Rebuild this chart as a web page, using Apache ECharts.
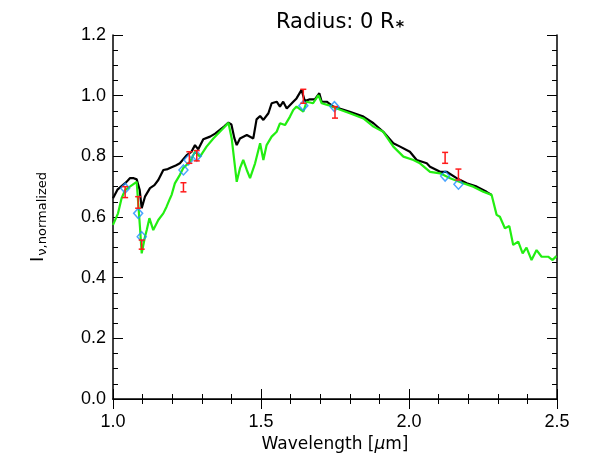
<!doctype html>
<html>
<head>
<meta charset="UTF-8">
<title>Radius: 0 R*</title>
<script src="https://cdn.jsdelivr.net/npm/echarts@6/dist/echarts.min.js"></script>
<style>
  html, body { margin: 0; padding: 0; background: #fff; }
  #main { width: 591px; height: 472px; }
</style>
</head>
<body>
<div id="main"></div>
<script>
// model spectrum (black)
var blackWl = [1.000,1.015,1.029,1.045,1.057,1.070,1.080,1.090,1.097,1.108,1.125,1.140,1.153,1.170,1.185,1.198,1.212,1.226,1.249,1.265,1.277,1.288,1.305,1.328,1.345,1.361,1.375,1.390,1.400,1.410,1.418,1.429,1.452,1.474,1.485,1.497,1.508,1.525,1.536,1.553,1.564,1.575,1.587,1.609,1.620,1.637,1.648,1.665,1.682,1.697,1.705,1.722,1.744,1.800,1.846,1.880,1.913,1.947,1.970,2.003,2.026,2.060,2.071,2.105,2.127,2.161,2.195,2.229,2.262,2.279];
var blackI  = [0.662,0.690,0.702,0.715,0.728,0.728,0.724,0.690,0.629,0.667,0.695,0.705,0.722,0.755,0.758,0.764,0.770,0.777,0.804,0.815,0.837,0.823,0.856,0.865,0.875,0.887,0.898,0.911,0.905,0.860,0.837,0.859,0.870,0.859,0.922,0.933,0.920,0.942,0.975,0.980,0.964,0.980,0.958,0.980,0.991,1.019,0.982,0.988,0.988,1.008,0.980,0.980,0.964,0.947,0.931,0.909,0.881,0.843,0.832,0.815,0.788,0.777,0.766,0.749,0.749,0.728,0.711,0.700,0.683,0.673];

// model spectrum (green)
var greenWl = [1.000,1.017,1.029,1.041,1.057,1.080,1.091,1.097,1.108,1.114,1.123,1.136,1.153,1.170,1.181,1.193,1.198,1.209,1.226,1.237,1.260,1.277,1.294,1.316,1.339,1.361,1.380,1.390,1.401,1.418,1.429,1.440,1.452,1.463,1.480,1.497,1.508,1.519,1.536,1.553,1.564,1.581,1.598,1.609,1.620,1.643,1.654,1.676,1.694,1.705,1.727,1.756,1.800,1.846,1.880,1.913,1.947,1.981,2.015,2.037,2.071,2.105,2.139,2.183,2.217,2.251,2.279,2.296,2.307,2.324,2.339,2.352,2.369,2.384,2.397,2.414,2.431,2.448,2.470,2.485,2.498];
var greenI  = [0.574,0.612,0.662,0.689,0.700,0.716,0.568,0.480,0.535,0.557,0.596,0.557,0.590,0.612,0.634,0.662,0.673,0.711,0.739,0.761,0.782,0.815,0.799,0.832,0.859,0.881,0.900,0.911,0.859,0.716,0.761,0.788,0.755,0.728,0.777,0.843,0.788,0.837,0.865,0.881,0.909,0.903,0.931,0.953,0.964,0.947,0.980,0.975,1.002,0.975,0.969,0.958,0.942,0.925,0.898,0.881,0.832,0.799,0.788,0.777,0.749,0.744,0.728,0.711,0.700,0.683,0.673,0.607,0.601,0.563,0.570,0.508,0.519,0.480,0.499,0.458,0.491,0.469,0.469,0.458,0.471];

// synthetic photometry (diamonds)
var synWl = [1.041,1.085,1.097,1.238,1.255,1.283,1.643,1.748,2.122,2.167];
var synI  = [0.695,0.612,0.535,0.755,0.788,0.801,0.967,0.964,0.735,0.708];

// observed photometry (error bars)
var obsWl  = [1.041,1.085,1.097,1.238,1.258,1.283,1.643,1.750,2.122,2.167];
var obsI   = [0.682,0.648,0.509,0.698,0.796,0.802,0.998,0.945,0.795,0.740];
var obsErr = [0.018,0.019,0.015,0.015,0.019,0.017,0.023,0.019,0.018,0.018];

function pairs(xs, ys) {
    var out = [];
    for (var i = 0; i < xs.length; i++) out.push([xs[i], ys[i]]);
    return out;
}
var errData = [];
for (var i = 0; i < obsWl.length; i++) errData.push([obsWl[i], obsI[i], obsErr[i]]);

var font = 'Liberation Sans, Arial, sans-serif';
var wide = 'DejaVu Sans, sans-serif';
var tickStyle = { show: true, inside: true, length: 10, lineStyle: { color: '#000', width: 1 } };
var minorStyle = { show: true, length: 5, lineStyle: { color: '#000', width: 1 } };

var myChart = echarts.init(document.getElementById('main'));
var option = {
    animation: false,
    backgroundColor: '#fff',
    title: {
        text: 'Radius: 0 R{s|*}',
        left: 335,
        textAlign: 'center',
        top: 4,
        textStyle: {
            fontFamily: wide, fontSize: 21, fontWeight: 'normal', color: '#000',
            rich: { s: { fontFamily: wide, fontSize: 16, fontWeight: 'bold', padding: [11, 0, 0, 1] } }
        }
    },
    grid: { left: 113, right: 34, top: 35, bottom: 73 },
    xAxis: [{
        type: 'value', min: 1.0, max: 2.5, interval: 0.5,
        name: 'Wavelength [{m|μ}m]',
        nameLocation: 'middle', nameGap: 36,
        nameTextStyle: {
            fontFamily: wide, fontSize: 17, color: '#000',
            rich: { m: { fontFamily: wide, fontSize: 17, fontStyle: 'italic' } }
        },
        axisLine: { lineStyle: { color: '#000', width: 1.5 } },
        axisTick: tickStyle,
        minorTick: Object.assign({ splitNumber: 5 }, minorStyle),
        splitLine: { show: false },
        axisLabel: { fontFamily: font, fontSize: 18, color: '#000', margin: 14,
            formatter: function (v) { return v.toFixed(1); } }
    }, {
        type: 'value', min: 1.0, max: 2.5, interval: 0.5, position: 'top',
        axisLine: { show: true, lineStyle: { color: '#000', width: 1 } },
        axisTick: tickStyle,
        minorTick: Object.assign({ splitNumber: 5 }, minorStyle),
        splitLine: { show: false },
        axisLabel: { show: false }
    }],
    yAxis: [{
        type: 'value', min: 0, max: 1.2, interval: 0.2,
        name: '{i|I}{s|ν,normalized}',
        nameLocation: 'middle', nameGap: 64, nameRotate: 90,
        nameTextStyle: {
            fontFamily: wide, color: '#000',
            rich: {
                i: { fontFamily: wide, fontSize: 18 },
                s: { fontFamily: wide, fontSize: 13, padding: [9, 0, 0, 1] }
            }
        },
        axisLine: { show: true, lineStyle: { color: '#000', width: 1.5 } },
        axisTick: tickStyle,
        minorTick: Object.assign({ splitNumber: 4 }, minorStyle),
        splitLine: { show: false },
        axisLabel: { fontFamily: font, fontSize: 18, color: '#000', margin: 7,
            formatter: function (v) { return v.toFixed(1); } }
    }, {
        type: 'value', min: 0, max: 1.2, interval: 0.2, position: 'right',
        axisLine: { show: true, lineStyle: { color: '#000', width: 1.5 } },
        axisTick: tickStyle,
        minorTick: Object.assign({ splitNumber: 4 }, minorStyle),
        splitLine: { show: false },
        axisLabel: { show: false }
    }],
    series: [{
        type: 'line', data: pairs(blackWl, blackI),
        showSymbol: false, lineStyle: { color: '#000', width: 2.2 }, z: 2
    }, {
        type: 'line', data: pairs(greenWl, greenI),
        showSymbol: false, lineStyle: { color: '#22ee11', width: 2.2 }, z: 3
    }, {
        type: 'scatter', data: pairs(synWl, synI),
        symbol: 'diamond', symbolSize: [9, 10],
        itemStyle: { color: 'rgba(0,0,0,0)', borderColor: '#1e8fff', borderWidth: 1.5 }, z: 4
    }, {
        type: 'custom', z: 5,
        data: errData,
        renderItem: function (params, api) {
            var x = api.value(0), y = api.value(1), e = api.value(2);
            var lo = api.coord([x, y - e]);
            var hi = api.coord([x, y + e]);
            var w = 3;
            var st = { stroke: '#ff1a1a', lineWidth: 1.5 };
            return {
                type: 'group',
                children: [
                    { type: 'line', shape: { x1: lo[0], y1: lo[1], x2: hi[0], y2: hi[1] }, style: st },
                    { type: 'line', shape: { x1: lo[0] - w, y1: lo[1], x2: lo[0] + w, y2: lo[1] }, style: st },
                    { type: 'line', shape: { x1: hi[0] - w, y1: hi[1], x2: hi[0] + w, y2: hi[1] }, style: st }
                ]
            };
        }
    }]
};
myChart.setOption(option);
</script>
</body>
</html>
